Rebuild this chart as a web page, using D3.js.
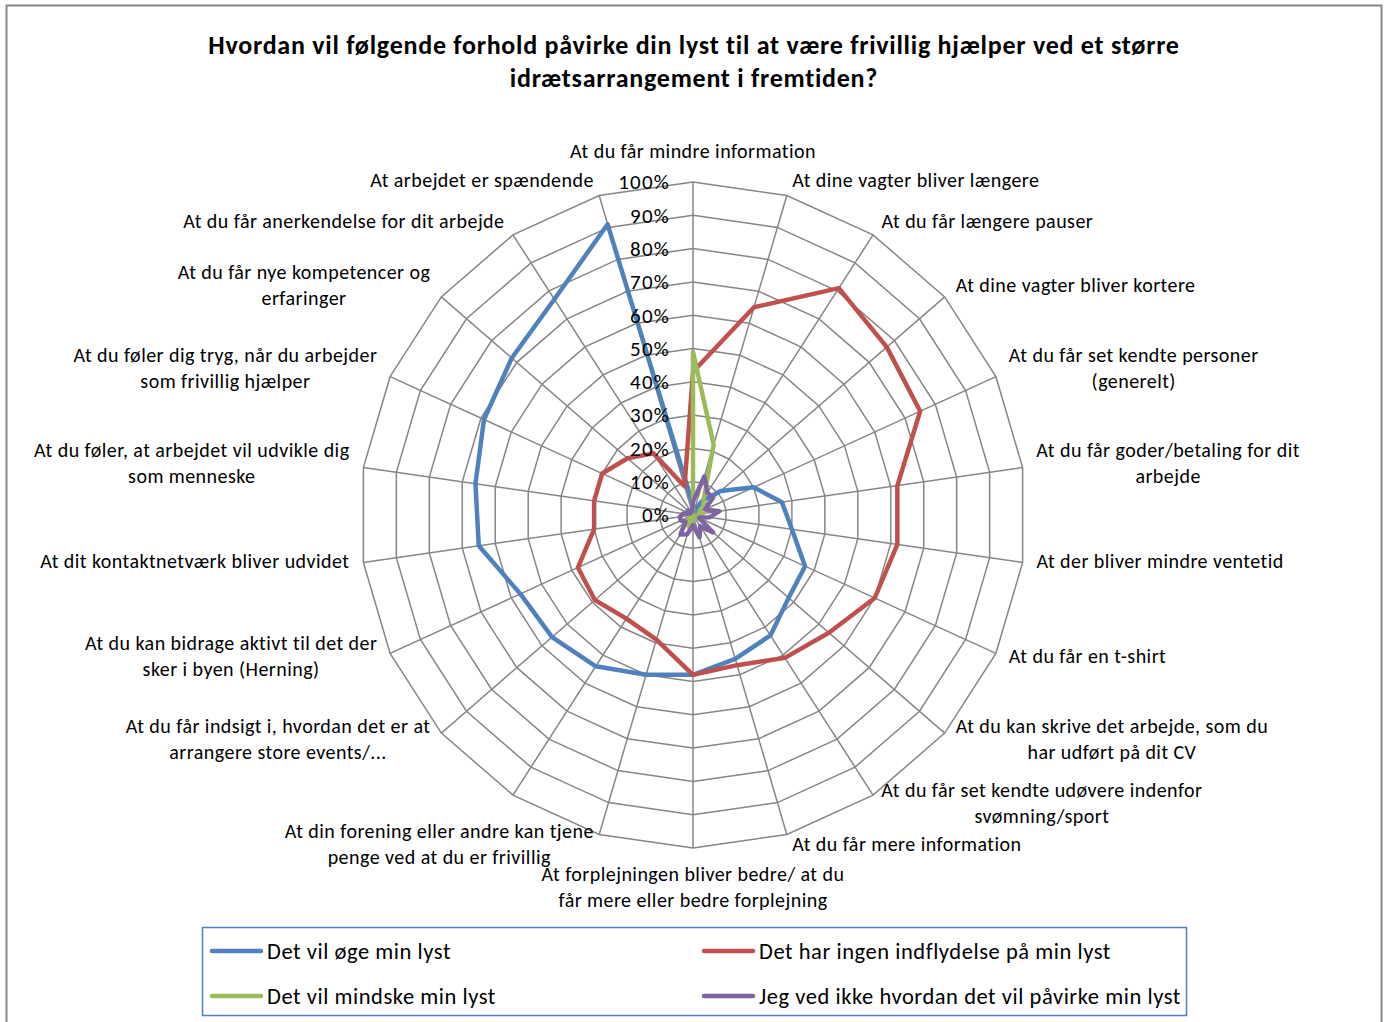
<!DOCTYPE html>
<html>
<head>
<meta charset="utf-8">
<script src="https://cdn.jsdelivr.net/npm/d3@7/dist/d3.min.js"></script>
<style>
    body { margin: 0; background: #fff; }
    svg text { font-family: Carlito, Calibri, Lato, sans-serif; fill: #000; }
</style>
</head>
<body>
<div id="radar-chart"><svg></svg></div>
<script>
// categories clockwise from the top (one label was dropped by the original chart)
var categories = [
    "At du får mindre information",
    "At dine vagter bliver længere",
    "At du får længere pauser",
    "At dine vagter bliver kortere",
    "At du får set kendte personer\n(generelt)",
    "At du får goder/betaling for dit\narbejde",
    "At der bliver mindre ventetid",
    "At du får en t-shirt",
    "At du kan skrive det arbejde, som du\nhar udført på dit CV",
    "At du får set kendte udøvere indenfor\nsvømning/sport",
    "At du får mere information",
    "At forplejningen bliver bedre/ at du\nfår mere eller bedre forplejning",
    "At din forening eller andre kan tjene\npenge ved at du er frivillig",
    "",
    "At du får indsigt i, hvordan det er at\narrangere store events/...",
    "At du kan bidrage aktivt til det der\nsker i byen (Herning)",
    "At dit kontaktnetværk bliver udvidet",
    "At du føler, at arbejdet vil udvikle dig\nsom menneske",
    "At du føler dig tryg, når du arbejder\nsom frivillig hjælper",
    "At du får nye kompetencer og\nerfaringer",
    "At du får anerkendelse for dit arbejde",
    "At arbejdet er spændende"
];

// percentages
var oegeLyst = [3, 1, 5, 11, 20, 27, 30, 37, 38, 43, 45, 48, 50, 54, 56, 57, 65, 66, 69, 72, 77, 91];
var ingenIndflydelse = [43, 65, 81, 77, 75, 62, 62, 60, 54, 51, 47, 48, 39, 37, 39, 38, 30, 30, 30, 26, 22, 9];
var mindskeLyst = [49, 22, 6, 4, 2, 3, 2, 1, 1, 1, 1, 1, 4, 2, 1, 1, 1, 1, 0, 0, 0, 0];
var vedIkke = [4, 12, 8, 8, 4, 8, 5, 2, 8, 4, 7, 3, 6, 7, 3, 4, 4, 3, 1, 2, 1, 1];

var seriesNames = ["Det vil øge min lyst", "Det har ingen indflydelse på min lyst",
    "Det vil mindske min lyst", "Jeg ved ikke hvordan det vil påvirke min lyst"];
var seriesColors = ["#4F81BD", "#C0504D", "#9BBB59", "#8064A2"];

var tickValues = [0, 10, 20, 30, 40, 50, 60, 70, 80, 90, 100];
var tickLabels = ["0%", "10%", "20%", "30%", "40%", "50%", "60%", "70%", "80%", "90%", "100%"];

var titleLines = ["Hvordan vil følgende forhold påvirke din lyst til at være frivillig hjælper ved et større",
    "idrætsarrangement i fremtiden?"];

var width = 1388, height = 1022;
var cx = 693, cy = 515, radius = 333;

var svg = d3.select("#radar-chart").select("svg")
    .attr("width", width)
    .attr("height", height);

// chart frame
svg.append("rect")
    .attr("x", 6.5).attr("y", 5.5)
    .attr("width", 1375).attr("height", 1040)
    .attr("fill", "#fff")
    .attr("stroke", "#868686")
    .attr("stroke-width", 2);

// title
svg.append("text")
    .attr("text-anchor", "middle")
    .style("font-size", "26px")
    .style("letter-spacing", "0.75px")
    .style("font-weight", "bold")
    .selectAll("tspan")
    .data(titleLines)
    .enter().append("tspan")
    .attr("x", 694)
    .attr("y", function (d, i) { return 54 + i * 33; })
    .text(function (d) { return d; });

var r = d3.scaleLinear().domain([0, 100]).range([0, radius]);
var angle = d3.scaleLinear().domain([0, categories.length]).range([0, 2 * Math.PI]);

var g = svg.append("g")
    .attr("transform", "translate(" + cx + "," + cy + ")");

// rings
g.selectAll(".ring")
    .data(tickValues.slice(1))
    .enter().append("path")
    .attr("class", "ring")
    .attr("d", function (t) {
        return d3.lineRadial()
            .angle(function (d, i) { return angle(i); })
            .radius(r(t))
            .curve(d3.curveLinearClosed)(categories);
    })
    .attr("fill", "none")
    .attr("stroke", "#868686")
    .attr("stroke-width", 1.5);

// spokes
g.selectAll(".spoke")
    .data(categories)
    .enter().append("line")
    .attr("class", "spoke")
    .attr("x1", 0).attr("y1", 0)
    .attr("x2", function (d, i) { return r(100) * Math.sin(angle(i)); })
    .attr("y2", function (d, i) { return -r(100) * Math.cos(angle(i)); })
    .attr("stroke", "#868686")
    .attr("stroke-width", 1.5);

// series
var series = [oegeLyst, ingenIndflydelse, mindskeLyst, vedIkke];
var radarLine = d3.lineRadial()
    .angle(function (d, i) { return angle(i); })
    .radius(function (d) { return r(d); })
    .curve(d3.curveLinearClosed);

g.selectAll(".serie")
    .data(series)
    .enter().append("path")
    .attr("class", "serie")
    .attr("d", radarLine)
    .attr("fill", "none")
    .attr("stroke", function (d, i) { return seriesColors[i]; })
    .attr("stroke-width", 4.5)
    .attr("stroke-linejoin", "round");

// tick labels on the top spoke
g.selectAll(".tick-label")
    .data(tickValues)
    .enter().append("text")
    .attr("class", "tick-label")
    .attr("x", -23)
    .attr("y", function (d) { return -r(d); })
    .attr("dy", "0.35em")
    .attr("text-anchor", "end")
    .style("font-size", "21px")
    .style("letter-spacing", "1.2px")
    .text(function (d, i) { return tickLabels[i]; });

// category labels
var lineH = 26;
g.selectAll(".cat-label")
    .data(categories)
    .enter().append("text")
    .attr("class", "cat-label")
    .style("font-size", "20px")
    .style("letter-spacing", "0.45px")
    .attr("text-anchor", "middle")
    .each(function (label, i) {
        var a = angle(i), s = Math.sin(a), c = Math.cos(a);
        var vx = r(100) * s, vy = -r(100) * c;
        var lines = label ? label.split("\n") : [];
        var text = d3.select(this);
        var tspans = text.selectAll("tspan").data(lines).enter().append("tspan")
            .text(function (d) { return d; });
        var w = 0;
        tspans.each(function () { w = Math.max(w, this.getComputedTextLength()); });
        var h = lines.length * lineH;
        var bx, by;
        if (Math.abs(s) < 0.01) {
            bx = vx;
            by = c > 0 ? vy - 18 - h / 2 : vy + 13 + h / 2;
        } else {
            var gap = 2 + 12 * Math.abs(s);
            bx = s > 0 ? vx + gap + w / 2 : vx - gap - w / 2;
            by = vy - 13 * c - 3;
        }
        tspans.attr("x", bx)
            .attr("y", function (d, j) { return by - h / 2 + lineH / 2 + j * lineH; })
            .attr("dy", "0.35em");
    });

// legend
var legend = svg.append("g");
legend.append("rect")
    .attr("x", 202.5).attr("y", 927.5)
    .attr("width", 984).attr("height", 88)
    .attr("fill", "#fff")
    .attr("stroke", "#4F81BD")
    .attr("stroke-width", 1.5);

var legendX = [210, 702], legendY = [951, 996];
var item = legend.selectAll(".item")
    .data(seriesNames)
    .enter().append("g")
    .attr("class", "item")
    .attr("transform", function (d, i) {
        return "translate(" + legendX[i % 2] + "," + legendY[Math.floor(i / 2)] + ")";
    });
item.append("line")
    .attr("x1", 2).attr("x2", 51)
    .attr("stroke", function (d, i) { return seriesColors[i]; })
    .attr("stroke-width", 4.5)
    .attr("stroke-linecap", "round");
item.append("text")
    .attr("x", 57)
    .attr("dy", "0.35em")
    .style("font-size", "22.5px")
    .style("letter-spacing", "0.55px")
    .text(function (d) { return d; });
</script>
</body>
</html>
